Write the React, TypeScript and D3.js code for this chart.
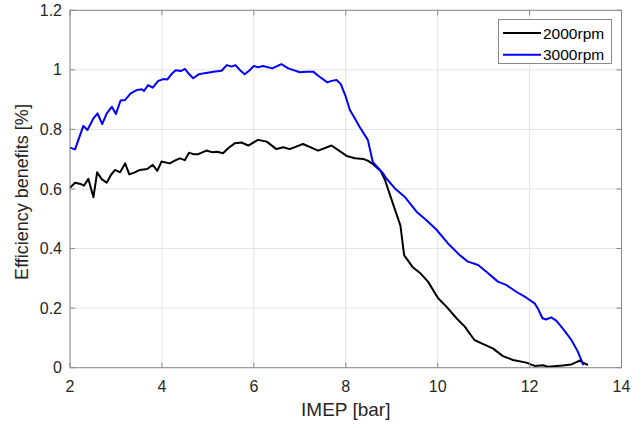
import React from "react";
import * as d3 from "d3";

const xTicks = [2, 4, 6, 8, 10, 12, 14];
const yTicks = [0, 0.2, 0.4, 0.6, 0.8, 1, 1.2];
const yTickLabels = ["0", "0.2", "0.4", "0.6", "0.8", "1", "1.2"];
const seriesNames = ["2000rpm", "3000rpm"];
const seriesColors = ["#000000", "#0000ff"];

const imep2000 = [2.0, 2.11, 2.25, 2.3, 2.4, 2.51, 2.59, 2.69, 2.8, 2.89, 2.98, 3.09, 3.2, 3.29, 3.41, 3.52, 3.68, 3.8, 3.9, 3.99, 4.17, 4.28, 4.39, 4.5, 4.59, 4.68, 4.79, 4.97, 5.1, 5.2, 5.33, 5.44, 5.59, 5.73, 5.88, 6.09, 6.28, 6.49, 6.64, 6.78, 7.07, 7.4, 7.69, 8.02, 8.2, 8.38, 8.48, 8.59, 8.76, 8.85, 9.03, 9.19, 9.27, 9.46, 9.61, 9.79, 10.01, 10.19, 10.41, 10.59, 10.8, 10.98, 11.2, 11.42, 11.64, 11.93, 12.11, 12.29, 12.4, 12.72, 12.91, 13.09, 13.16, 13.27];
const eff2000 = [0.604, 0.621, 0.616, 0.611, 0.634, 0.572, 0.656, 0.633, 0.621, 0.647, 0.664, 0.656, 0.686, 0.649, 0.656, 0.664, 0.667, 0.681, 0.661, 0.692, 0.686, 0.695, 0.703, 0.697, 0.722, 0.717, 0.717, 0.729, 0.723, 0.725, 0.72, 0.737, 0.754, 0.756, 0.746, 0.765, 0.759, 0.734, 0.74, 0.734, 0.751, 0.729, 0.746, 0.711, 0.703, 0.701, 0.695, 0.684, 0.66, 0.632, 0.549, 0.477, 0.378, 0.337, 0.319, 0.289, 0.233, 0.205, 0.166, 0.138, 0.093, 0.08, 0.065, 0.039, 0.026, 0.017, 0.006, 0.008, 0.003, 0.007, 0.011, 0.024, 0.017, 0.009];

const imep3000 = [2.0, 2.11, 2.29, 2.38, 2.51, 2.6, 2.7, 2.8, 2.91, 3.0, 3.1, 3.2, 3.32, 3.45, 3.56, 3.61, 3.7, 3.8, 3.92, 4.03, 4.12, 4.21, 4.3, 4.41, 4.5, 4.59, 4.68, 4.8, 4.93, 5.12, 5.3, 5.41, 5.52, 5.6, 5.7, 5.8, 5.91, 6.0, 6.09, 6.2, 6.4, 6.6, 6.75, 7.0, 7.15, 7.29, 7.43, 7.6, 7.69, 7.8, 7.89, 8.0, 8.09, 8.2, 8.3, 8.48, 8.59, 8.81, 8.88, 9.07, 9.28, 9.54, 9.75, 9.97, 10.22, 10.48, 10.66, 10.88, 11.06, 11.31, 11.49, 11.71, 11.93, 12.11, 12.18, 12.28, 12.36, 12.47, 12.58, 12.72, 12.91, 13.05, 13.17];
const eff3000 = [0.739, 0.733, 0.812, 0.798, 0.837, 0.854, 0.818, 0.854, 0.876, 0.852, 0.897, 0.899, 0.921, 0.932, 0.935, 0.929, 0.949, 0.94, 0.963, 0.969, 0.968, 0.986, 0.999, 0.996, 1.003, 0.986, 0.972, 0.985, 0.989, 0.994, 0.997, 1.016, 1.011, 1.016, 0.999, 0.985, 0.999, 1.013, 1.009, 1.013, 1.005, 1.019, 1.005, 0.992, 0.994, 0.994, 0.977, 0.958, 0.963, 0.966, 0.953, 0.91, 0.865, 0.837, 0.809, 0.765, 0.69, 0.653, 0.636, 0.602, 0.574, 0.524, 0.496, 0.464, 0.418, 0.378, 0.356, 0.345, 0.322, 0.289, 0.278, 0.255, 0.235, 0.216, 0.199, 0.166, 0.162, 0.169, 0.158, 0.132, 0.093, 0.054, 0.009];

const W = 641;
const H = 428;
const L = 70, R = 621.5, T = 10.3, B = 367.7;
const FONT = "'Liberation Sans', Arial, Helvetica, sans-serif";
const TXT = "#262626";

export default function App() {
  const x = d3.scaleLinear().domain([2, 14]).range([L, R]);
  const y = d3.scaleLinear().domain([0, 1.2]).range([B, T]);
  const line = d3
    .line<[number, number]>()
    .x((d) => x(d[0]))
    .y((d) => y(d[1]));
  const series = [
    imep2000.map((v, i) => [v, eff2000[i]] as [number, number]),
    imep3000.map((v, i) => [v, eff3000[i]] as [number, number]),
  ];
  const tickLen = 5;
  return (
    <svg
      width={W}
      height={H}
      style={{ position: "absolute", left: 0, top: 0, background: "#fff" }}
      fontFamily={FONT}
    >
      <rect x={0} y={0} width={W} height={H} fill="#fff" />
      {xTicks.map((t) => (
        <line key={"gx" + t} x1={x(t)} x2={x(t)} y1={T} y2={B} stroke="#e3e3e3" strokeWidth={1} />
      ))}
      {yTicks.map((t) => (
        <line key={"gy" + t} x1={L} x2={R} y1={y(t)} y2={y(t)} stroke="#e3e3e3" strokeWidth={1} />
      ))}
      {series.map((s, i) => (
        <path
          key={"s" + i}
          d={line(s) || ""}
          fill="none"
          stroke={seriesColors[i]}
          strokeWidth={2}
          strokeLinejoin="round"
        />
      ))}
      <rect x={L} y={T} width={R - L} height={B - T} fill="none" stroke="#8a8a8a" strokeWidth={1} />
      {xTicks.map((t) => (
        <g key={"tx" + t}>
          <line x1={x(t)} x2={x(t)} y1={B} y2={B - tickLen} stroke="#8a8a8a" />
          <line x1={x(t)} x2={x(t)} y1={T} y2={T + tickLen} stroke="#8a8a8a" />
          <text x={x(t)} y={391.5} textAnchor="middle" fontSize={16} fill={TXT}>
            {t}
          </text>
        </g>
      ))}
      {yTicks.map((t, i) => (
        <g key={"ty" + t}>
          <line x1={L} x2={L + tickLen} y1={y(t)} y2={y(t)} stroke="#8a8a8a" />
          <line x1={R} x2={R - tickLen} y1={y(t)} y2={y(t)} stroke="#8a8a8a" />
          <text x={62} y={y(t) + 5.5} textAnchor="end" fontSize={16} fill={TXT}>
            {yTickLabels[i]}
          </text>
        </g>
      ))}
      <text x={(L + R) / 2} y={416} textAnchor="middle" fontSize={19} fill={TXT}>
        IMEP [bar]
      </text>
      <text
        transform={`translate(28, ${(T + B) / 2 + 3}) rotate(-90)`}
        textAnchor="middle"
        fontSize={18}
        fill={TXT}
      >
        Efficiency benefits [%]
      </text>
      <rect x={498.5} y={19.5} width={113} height={44} fill="#fff" stroke="#8a8a8a" strokeWidth={1} />
      {seriesNames.map((n, i) => (
        <g key={"lg" + i}>
          <line x1={503} x2={541} y1={33 + i * 21.7} y2={33 + i * 21.7} stroke={seriesColors[i]} strokeWidth={2} />
          <text x={543} y={33 + i * 21.7 + 5.5} fontSize={15.5} fill="#000">
            {n}
          </text>
        </g>
      ))}
    </svg>
  );
}
